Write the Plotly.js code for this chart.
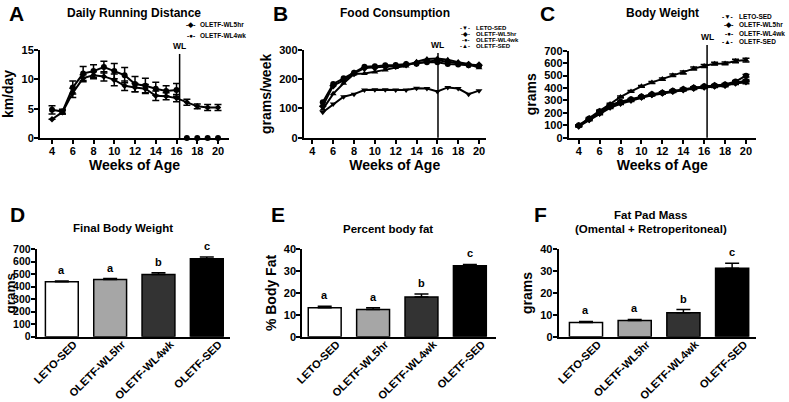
<!DOCTYPE html>
<html><head><meta charset="utf-8">
<script src="https://cdn.plot.ly/plotly-3.0.1.min.js"></script>
<style>html,body{margin:0;padding:0;background:#fff}#chart{width:789px;height:402px}</style>
</head><body><div id="chart"></div>
<script>
// ---------- DATA ----------
// A: Daily running distance (km/day)
const weeksA = [4,5,6,7,8,9,10,11,12,13,14,15,16];
const runWL4wk = [4.8,4.5,8.6,11.0,11.4,12.1,11.4,10.7,9.2,8.9,8.4,8.0,8.2];
const runWL4wkErr = [0.7,0.4,1.1,1.2,1.1,1.0,1.3,1.3,1.3,1.3,1.1,0.9,1.1];
const weeksAPost = [17,18,19,20];
const runWL4wkPost = [0,0,0,0];
const weeksA5 = [4,5,6,7,8,9,10,11,12,13,14,15,16,17,18,19,20];
const runWL5hr = [3.2,4.4,7.7,10.2,10.7,10.5,9.9,8.9,8.6,8.4,7.2,7.1,6.8,6.1,5.4,5.2,5.2];
const runWL5hrErr = [0,0.3,0.8,0.6,0.6,0.8,1.0,0.8,0.7,0.7,0.8,0.6,0.6,0.5,0.4,0.5,0.5];

// B: Food consumption (grams/week)
const weeksB = [5,6,7,8,9,10,11,12,13,14,15,16,17,18,19,20];
const foodLETO  = [87,115,140,149,163,164,164,163,163,169,168,158,172,168,149,161];
const foodWL5hr = [108,178,196,220,238,240,243,245,250,255,262,265,260,255,250,248];
const foodWL4wk = [121,184,203,222,243,244,248,249,252,253,258,258,252,250,248,245];
const foodSED   = [97,150,186,218,220,225,232,240,245,260,269,271,267,258,252,239];

// C: Body weight (grams)
const weeksC = [4,5,6,7,8,9,10,11,12,13,14,15,16,17,18,19,20];
const bwLETO  = [90,140,190,240,272,298,322,342,356,370,383,395,403,412,418,438,445];
const bwWL5hr = [95,148,200,250,283,305,328,348,360,374,388,400,410,418,424,442,458];
const bwWL4wk = [100,155,212,262,290,310,332,350,362,377,390,402,413,420,428,452,499];
const bwSED   = [97,158,217,271,328,372,413,445,472,503,525,556,577,596,598,617,625];
const bwErr   = [4,4,5,5,5,6,6,6,7,7,7,8,8,8,9,9,10];
const bwSEDErr = [5,5,6,6,7,7,8,8,9,10,12,12,12,12,12,14,15];

// D-F: bar charts
const groups = ['LETO-SED','OLETF-WL5hr','OLETF-WL4wk','OLETF-SED'];
const finalBW = [440,458,498,625];
const finalBWErr = [6,8,14,14];
const pctFat = [13.2,12.5,18.2,32.5];
const pctFatErr = [0.7,0.8,1.3,0.6];
const fatPad = [6.5,7.4,11.0,31.3];
const fatPadErr = [0.5,0.5,1.4,2.3];
const sigLetters = ['a','a','b','c'];

const wlWeekA = 16.3, wlWeekB = 16.06, wlWeekC = 16.28;

// ---------- STYLE ----------
const W = 789, H = 402;
const px = v => v / W, py = v => 1 - v / H;
const FAM = 'Liberation Sans, Arial, Helvetica, sans-serif';
const font = (s) => ({family: FAM, size: s, color: '#000', weight: 'bold'});
const barColors = ['#ffffff','#a6a6a6','#333333','#000000'];

function lineTrace(x, y, err, sym, xa, ya, extra) {
  const t = {
    type: 'scatter', mode: 'lines+markers', x: x, y: y, xaxis: xa, yaxis: ya,
    line: {color: '#000', width: 2},
    marker: {symbol: sym, size: 6, color: '#000'},
    showlegend: false, cliponaxis: false
  };
  if (err) t.error_y = {type: 'data', array: err, visible: true, color: '#000', thickness: 1.5, width: 3.5};
  return Object.assign(t, extra || {});
}
function barTrace(y, err, xa, ya) {
  return {
    type: 'bar', x: groups, y: y, xaxis: xa, yaxis: ya, width: 0.68,
    marker: {color: barColors, line: {color: '#000', width: 1.5}},
    error_y: {type: 'data', symmetric: false, array: err, arrayminus: err.map(() => 0),
              visible: true, color: '#000', thickness: 1.5, width: 7},
    showlegend: false
  };
}

const traces = [
  lineTrace(weeksA, runWL4wk, runWL4wkErr, 'circle', 'x', 'y'),
  lineTrace(weeksAPost, runWL4wkPost, null, 'circle', 'x', 'y', {mode: 'markers'}),
  lineTrace(weeksA5, runWL5hr, runWL5hrErr, 'diamond', 'x', 'y', {marker: {symbol: 'diamond', size: 5, color: '#000'}}),

  lineTrace(weeksB, foodLETO, null, 'triangle-down', 'x2', 'y2'),
  lineTrace(weeksB, foodWL5hr, null, 'diamond', 'x2', 'y2'),
  lineTrace(weeksB, foodWL4wk, null, 'circle', 'x2', 'y2'),
  lineTrace(weeksB, foodSED, null, 'triangle-up', 'x2', 'y2'),

  lineTrace(weeksC, bwLETO, bwErr, 'triangle-down', 'x3', 'y3'),
  lineTrace(weeksC, bwWL5hr, bwErr, 'diamond', 'x3', 'y3'),
  lineTrace(weeksC, bwWL4wk, bwErr, 'circle', 'x3', 'y3'),
  lineTrace(weeksC, bwSED, bwSEDErr, 'triangle-up', 'x3', 'y3'),

  barTrace(finalBW, finalBWErr, 'x4', 'y4'),
  barTrace(pctFat, pctFatErr, 'x5', 'y5'),
  barTrace(fatPad, fatPadErr, 'x6', 'y6')
];

const axBase = {
  showline: true, linecolor: '#000', linewidth: 2, mirror: false,
  ticks: 'outside', ticklen: 4, tickwidth: 2, tickcolor: '#000',
  showgrid: false, zeroline: false, automargin: false, fixedrange: true,
  tickfont: font(11)
};
const ax = (o) => Object.assign({}, axBase, o);
const ttl = (t, s, so) => ({text: t, font: font(s), standoff: so});
const catAx = (o) => ax(Object.assign({type: 'category', ticks: '', tickangle: -45, tickfont: font(11),
                                        ticklabelshift: 12, ticklabelstandoff: -5}, o));

const layout = {
  width: W, height: H, margin: {l: 0, r: 0, t: 0, b: 0},
  paper_bgcolor: '#fff', plot_bgcolor: '#fff', showlegend: false,
  font: {family: FAM, color: '#000'},
  // A
  xaxis: ax({domain: [px(40), px(229)], range: [2.84, 21.06], tick0: 4, dtick: 2, anchor: 'y', ticklabelstandoff: -2, title: ttl('Weeks of Age', 14, 1)}),
  yaxis: ax({domain: [py(138), py(50)], range: [0, 15], dtick: 5, anchor: 'x', ticklabelstandoff: -2, title: ttl('km/day', 14, 10)}),
  // B
  xaxis2: ax({domain: [px(303.7), px(485.7)], range: [3.17, 20.64], tick0: 4, dtick: 2, anchor: 'y2', ticklabelstandoff: -2, title: ttl('Weeks of Age', 14, 1)}),
  yaxis2: ax({domain: [py(137.7), py(50)], range: [0, 300], dtick: 100, anchor: 'x2', ticklabelstandoff: -2, title: ttl('grams/week', 14, 4)}),
  // C
  xaxis3: ax({domain: [px(568.7), px(756)], range: [3.04, 20.96], tick0: 4, dtick: 2, anchor: 'y3', ticklabelstandoff: -2, title: ttl('Weeks of Age', 14, 1)}),
  yaxis3: ax({domain: [py(137.7), py(50.7)], range: [0, 700], dtick: 100, anchor: 'x3', ticklabelstandoff: -2, title: ttl('grams', 14, 4)}),
  // D (y title drawn as a rotated annotation: axis titles are constrained to the margin)
  xaxis4: catAx({domain: [px(36.7), px(230)], range: [-0.52, 3.48], anchor: 'y4'}),
  yaxis4: ax({domain: [py(336.7), py(249.3)], range: [0, 700], dtick: 100, anchor: 'x4', ticklabelstandoff: -2, tickfont: font(10.5)}),
  // E
  xaxis5: catAx({domain: [px(302.3), px(496)], range: [-0.463, 3.54], anchor: 'y5'}),
  yaxis5: ax({domain: [py(336.7), py(249.3)], range: [0, 40], dtick: 10, anchor: 'x5', ticklabelstandoff: -2, title: ttl('% Body Fat', 14, 4)}),
  // F
  xaxis6: catAx({domain: [px(558.7), px(756)], range: [-0.56, 3.49], anchor: 'y6'}),
  yaxis6: ax({domain: [py(336.7), py(249.3)], range: [0, 40], dtick: 10, anchor: 'x6', ticklabelstandoff: -2, title: ttl('grams', 14, 4)}),
  shapes: [
    {type: 'line', xref: 'x', yref: 'y domain', x0: wlWeekA, x1: wlWeekA, y0: 0, y1: 0.955, line: {color: '#000', width: 1.5}},
    {type: 'line', xref: 'x2', yref: 'y2 domain', x0: wlWeekB, x1: wlWeekB, y0: 0, y1: 0.966, line: {color: '#000', width: 1.5}},
    {type: 'line', xref: 'x3', yref: 'y3 domain', x0: wlWeekC, x1: wlWeekC, y0: 0, y1: 1.065, line: {color: '#000', width: 1.5}}
  ],
  annotations: []
};

const ann = layout.annotations;
function pText(text, x, y, size, anchor, angle, yanchor) {
  ann.push({text: text, xref: 'paper', yref: 'paper', x: px(x), y: py(y), xanchor: anchor || 'center', yanchor: yanchor || 'middle',
            showarrow: false, font: font(size), textangle: angle || 0});
}
// D y-axis title
pText('grams', 0, 293, 13.5, 'left', -90);
// panel letters
pText('A', 16.5, 0, 21, 'center', 0, 'top'); pText('B', 280.5, 0, 21, 'center', 0, 'top'); pText('C', 547, 0, 21, 'center', 0, 'top');
pText('D', 17, 214, 21); pText('E', 278, 214, 21); pText('F', 540, 214, 21);
// panel titles
pText('Daily Running Distance', 134, 13, 12);
pText('Food Consumption', 394.7, 13, 12);
pText('Body Weight', 662.7, 13, 12);
pText('Final Body Weight', 123, 228, 11.5);
pText('Percent body fat', 388, 229, 11.5);
pText('Fat Pad Mass', 651, 215, 11.5);
pText('(Omental + Retroperitoneal)', 651, 229, 11.5);
// WL labels
[['x', 'y domain', wlWeekA, 0.955], ['x2', 'y2 domain', wlWeekB, 0.966], ['x3', 'y3 domain', wlWeekC, 1.065]].forEach(w => {
  ann.push({text: 'WL', xref: w[0], yref: w[1], x: w[2], y: w[3], xanchor: 'center', yanchor: 'bottom', yshift: 1,
            showarrow: false, font: font(8.5)});
});
// legends (symbol + label)
const legSym = {'LETO-SED': '-▼-', 'OLETF-WL5hr': '-◆-', 'OLETF-WL4wk': '-●-', 'OLETF-SED': '-▲-'};
function legend(names, xSym, xText, ys, fs) {
  names.forEach((n, i) => {
    ann.push({text: legSym[n], xref: 'paper', yref: 'paper', x: px(xSym), y: py(ys[i]), xanchor: 'right', yanchor: 'middle',
              showarrow: false, font: font(fs)});
    pText(n, xText, ys[i], fs, 'left');
  });
}
legend(['OLETF-WL5hr', 'OLETF-WL4wk'], 197, 198, [25, 35], 6.5);
legend(groups, 472, 474, [28, 34, 40, 46], 6);
legend(groups, 735, 737, [17, 25, 33, 41], 6.5);
// significance letters
[[finalBW, finalBWErr, 'x4', 'y4'], [pctFat, pctFatErr, 'x5', 'y5'], [fatPad, fatPadErr, 'x6', 'y6']].forEach(p => {
  groups.forEach((g, i) => {
    ann.push({text: sigLetters[i], xref: p[2], yref: p[3], x: g, y: p[0][i] + p[1][i], xanchor: 'center', yanchor: 'bottom',
              yshift: 3, showarrow: false, font: font(11)});
  });
});

Plotly.newPlot('chart', traces, layout, {staticPlot: true, displayModeBar: false});
</script>
</body></html>
